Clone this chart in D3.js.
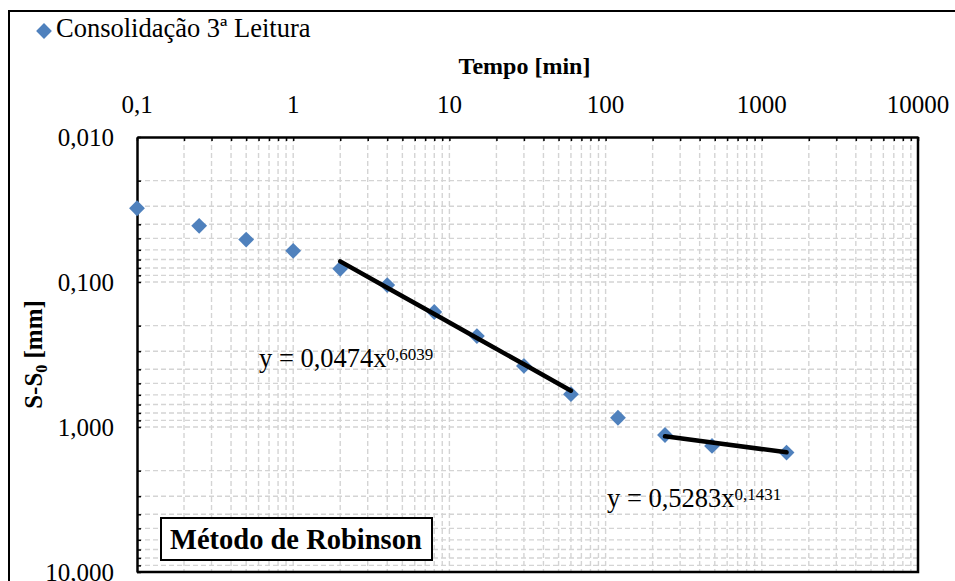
<!DOCTYPE html>
<html>
<head>
<meta charset="utf-8">
<script src="https://cdn.jsdelivr.net/npm/d3@7"></script>
<style>
  body { margin: 0; background: #fff; }
</style>
</head>
<body>
<div id="chart"></div>
<script>
const width = 955;
const height = 581;
const plotLeft = 137;
const plotRight = 918;
const plotTop = 137;
const plotBottom = 572;
const serif = "'Liberation Serif', 'Times New Roman', Times, 'DejaVu Serif', serif";

// leituras (tempo em min, recalque em mm)
const tempo = [0.1, 0.25, 0.5, 1, 2, 4, 8, 15, 30, 60, 120, 240, 480, 1440];
const recalque = [0.031, 0.041, 0.051, 0.061, 0.081, 0.105, 0.161, 0.236, 0.379, 0.594, 0.863, 1.135, 1.35, 1.50];

// linhas de tendência (potência)
const trendCoef = [0.0474, 0.5283];
const trendExp = [0.6039, 0.1431];
const trendFrom = [2, 240];
const trendTo = [60, 1440];
const trendLabelCoef = ["0,0474", "0,5283"];
const trendLabelExp = ["0,6039", "0,1431"];

const xTicks = [0.1, 1, 10, 100, 1000, 10000];
const xTickLabels = ["0,1", "1", "10", "100", "1000", "10000"];
const yTicks = [0.01, 0.1, 1, 10];
const yTickLabels = ["0,010", "0,100", "1,000", "10,000"];

const x = d3.scaleLog()
    .domain([0.1, 10000])
    .range([plotLeft, plotRight]);
const y = d3.scaleLog()
    .domain([0.01, 10])
    .range([plotTop, plotBottom]);

const svg = d3.select("#chart")
    .append("svg")
        .attr("width", width)
        .attr("height", height)
        .style("font-family", serif);

// moldura externa
svg.append("rect")
    .attr("x", 9).attr("y", 11)
    .attr("width", 1000).attr("height", 700)
    .attr("fill", "#fff")
    .attr("stroke", "#000")
    .attr("stroke-width", 2);

// grade
const grid = svg.append("g")
    .attr("stroke", "#d4d4d4")
    .attr("stroke-width", 1.4)
    .attr("stroke-dasharray", "5,3");

grid.selectAll(".gx")
    .data(x.ticks().filter(d => d > 0.1 * 1.0001))
    .join("line")
        .attr("x1", d => x(d)).attr("x2", d => x(d))
        .attr("y1", plotTop).attr("y2", plotBottom);

grid.selectAll(".gy")
    .data(y.ticks().filter(d => d > 0.01 * 1.0001))
    .join("line")
        .attr("x1", plotLeft).attr("x2", plotRight)
        .attr("y1", d => y(d)).attr("y2", d => y(d));

// eixo x (topo)
svg.append("g")
    .attr("transform", `translate(0,${plotTop})`)
    .call(d3.axisBottom(x)
        .tickValues(x.ticks())
        .tickSizeInner(4)
        .tickSizeOuter(0)
        .tickFormat(""))
    .call(g => g.select(".domain").attr("stroke-width", 2.5))
    .call(g => g.selectAll(".tick line").attr("stroke-width", 1.5));

svg.append("g")
    .selectAll("text")
    .data(xTicks)
    .join("text")
        .attr("x", d => x(d))
        .attr("y", 113)
        .attr("text-anchor", "middle")
        .attr("font-family", serif)
        .attr("font-size", 25)
        .text((d, i) => xTickLabels[i]);

// eixo y (esquerda)
svg.append("g")
    .attr("transform", `translate(${plotLeft},0)`)
    .call(d3.axisRight(y)
        .tickValues(y.ticks())
        .tickSizeInner(4)
        .tickSizeOuter(0)
        .tickFormat(""))
    .call(g => g.select(".domain").attr("stroke-width", 2.5))
    .call(g => g.selectAll(".tick line").attr("stroke-width", 1.5));

svg.append("g")
    .selectAll("text")
    .data(yTicks)
    .join("text")
        .attr("x", 114)
        .attr("y", d => y(d))
        .attr("dy", "0.34em")
        .attr("text-anchor", "end")
        .attr("font-family", serif)
        .attr("font-size", 25)
        .text((d, i) => yTickLabels[i]);

// borda direita e inferior da área do gráfico
svg.append("path")
    .attr("d", `M${plotRight},${plotTop}V${plotBottom}H${plotLeft}`)
    .attr("fill", "none")
    .attr("stroke", "#000")
    .attr("stroke-width", 2.5);

// títulos dos eixos
svg.append("text")
    .attr("x", (plotLeft + plotRight) / 2 - 3)
    .attr("y", 74)
    .attr("text-anchor", "middle")
    .attr("font-family", serif)
    .attr("font-size", 24)
    .attr("font-weight", "bold")
    .text("Tempo [min]");

const yTitle = svg.append("text")
    .attr("transform", `translate(42,${(plotTop + plotBottom) / 2}) rotate(-90)`)
    .attr("text-anchor", "middle")
    .attr("font-family", serif)
    .attr("font-size", 25)
    .attr("font-weight", "bold");
yTitle.append("tspan").text("S-S");
yTitle.append("tspan").attr("font-size", 16).attr("dy", 5).text("0");
yTitle.append("tspan").attr("dy", -5).text(" [mm]");

// pontos
const diamond = d3.symbol().type(d3.symbolSquare).size(125);
svg.append("g")
    .selectAll("path")
    .data(tempo)
    .join("path")
        .attr("d", diamond)
        .attr("transform", (d, i) => `translate(${x(d)},${y(recalque[i])}) rotate(45)`)
        .attr("fill", "#4f81bd");

// linhas de tendência
const line = d3.line()
    .x(d => x(d[0]))
    .y(d => y(d[1]));

trendCoef.forEach((a, k) => {
    const pts = tempo
        .filter(t => t >= trendFrom[k] && t <= trendTo[k])
        .map(t => [t, a * Math.pow(t, trendExp[k])]);
    svg.append("path")
        .datum(pts)
        .attr("fill", "none")
        .attr("stroke", "#000")
        .attr("stroke-width", 4.5)
        .attr("stroke-linecap", "round")
        .attr("d", line);
});

// equações
const eqPos = [[259, 367], [607, 507]];
eqPos.forEach((p, k) => {
    const t = svg.append("text")
        .attr("x", p[0]).attr("y", p[1])
        .attr("font-family", serif)
        .attr("font-size", 26.5);
    t.append("tspan").text("y = " + trendLabelCoef[k] + "x");
    t.append("tspan").attr("font-size", 17).attr("dy", -7).text(trendLabelExp[k]);
});

// caixa do método
svg.append("rect")
    .attr("x", 161).attr("y", 518)
    .attr("width", 271).attr("height", 42)
    .attr("fill", "#fff")
    .attr("stroke", "#000")
    .attr("stroke-width", 2);
svg.append("text")
    .attr("x", 170).attr("y", 549)
    .attr("font-family", serif)
    .attr("font-size", 28.5)
    .attr("font-weight", "bold")
    .text("Método de Robinson");

// legenda
svg.append("path")
    .attr("d", diamond)
    .attr("transform", "translate(44,31) rotate(45)")
    .attr("fill", "#4f81bd");
svg.append("text")
    .attr("x", 56).attr("y", 37)
    .attr("font-family", serif)
    .attr("font-size", 26.5)
    .text("Consolidação 3ª Leitura");
</script>
</body>
</html>
